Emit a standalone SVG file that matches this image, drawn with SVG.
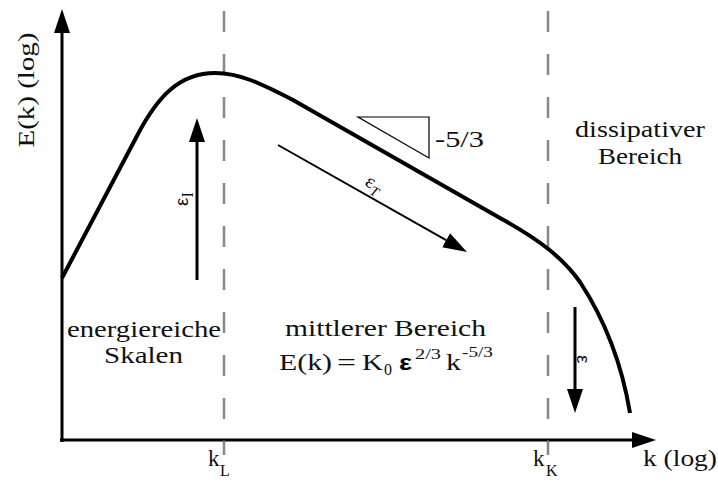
<svg xmlns="http://www.w3.org/2000/svg" width="718" height="482" viewBox="0 0 718 482">
<style>
.t{font-family:"Liberation Serif","Times New Roman",serif;font-size:23px;fill:#111}
.sub{font-family:"Liberation Serif","Times New Roman",serif;font-size:16px;fill:#111}
.sup{font-family:"Liberation Serif","Times New Roman",serif;font-size:15px;fill:#111}
.eps{font-family:"Liberation Sans","DejaVu Sans",sans-serif;font-size:19px;fill:#111}
.ax{stroke:#000;stroke-width:3;fill:none}
.dash{stroke:#888;stroke-width:2.5;stroke-dasharray:21 22;fill:none}
</style>
<defs>
<marker id="ah" markerUnits="userSpaceOnUse" markerWidth="26" markerHeight="18" viewBox="0 0 26 18" refX="0" refY="9" orient="auto">
<path d="M0,1 L24,9 L0,17 z" fill="#000"/>
</marker>
</defs>
<g id="connectors">
<line class="dash" x1="224" y1="11" x2="224" y2="455"/>
<line class="dash" x1="548" y1="11" x2="548" y2="455"/>
<line class="ax" x1="62" y1="442" x2="62" y2="33" marker-end="url(#ah)"/>
<line class="ax" x1="60" y1="440" x2="632" y2="440" marker-end="url(#ah)"/>
<line x1="224" y1="440" x2="224" y2="455" stroke="#888" stroke-width="1.2"/>
<line x1="548" y1="440" x2="548" y2="455" stroke="#888" stroke-width="1.2"/>
<path d="M62,278 L138,134 C158,96 180,73 215,73 C240,73 262,84 293,100 L500,218 C540,240 563,258 580,282 C605,320 622,365 630,413" fill="none" stroke="#000" stroke-width="4"/>
<line class="ax" x1="197" y1="280" x2="197" y2="142" marker-end="url(#ah)"/>
<line class="ax" x1="575" y1="307" x2="575" y2="389" marker-end="url(#ah)"/>
<line x1="278" y1="145" x2="446.1" y2="240.2" stroke="#000" stroke-width="2" marker-end="url(#ah)"/>
<polygon points="358,117 429,117 429,158" fill="none" stroke="#000" stroke-width="1.2"/>
</g>
<g id="axis-labels">
<text class="t" transform="translate(34,90) rotate(-90)" text-anchor="middle" textLength="115" lengthAdjust="spacingAndGlyphs">E(k) (log)</text>
<text class="t" x="643" y="466" textLength="74" lengthAdjust="spacingAndGlyphs">k (log)</text>
<text class="t" x="208" y="466">k</text><text class="sub" x="220" y="476">L</text>
<text class="t" x="533" y="466">k</text><text class="sub" x="546" y="476">K</text>
</g>
<g id="slope">
<text class="t" x="435" y="147" textLength="49" lengthAdjust="spacingAndGlyphs">-5/3</text>
</g>
<g id="eps-labels">
<text class="eps" transform="translate(188,206) rotate(-90)">ε<tspan class="sub" dy="5">I</tspan></text>
<text class="eps" transform="translate(577,355) rotate(90)">ε</text>
<text transform="translate(364,185) rotate(29.5)" style="font-family:'Liberation Serif',serif;font-size:20px">ε<tspan dy="5" style="font-size:14px;font-style:italic">T</tspan></text>
</g>
<g id="region-energy">
<text class="t" x="67" y="337" textLength="154" lengthAdjust="spacingAndGlyphs">energiereiche</text>
<text class="t" x="104" y="363" textLength="79" lengthAdjust="spacingAndGlyphs">Skalen</text>
</g>
<g id="region-middle">
<text class="t" x="285" y="336" textLength="201" lengthAdjust="spacingAndGlyphs">mittlerer Bereich</text>
<text class="t" x="279" y="370" textLength="53" lengthAdjust="spacingAndGlyphs">E(k)</text>
<text class="t" x="337" y="370" textLength="19" lengthAdjust="spacingAndGlyphs">=</text>
<text class="t" x="362" y="370" textLength="21" lengthAdjust="spacingAndGlyphs">K</text>
<text class="sub" x="384" y="375">0</text>
<text x="399" y="370" style="font-family:'Liberation Sans','DejaVu Sans',sans-serif;font-size:22px;font-weight:bold" textLength="13" lengthAdjust="spacingAndGlyphs">ε</text>
<text class="sup" x="415" y="359" textLength="26" lengthAdjust="spacingAndGlyphs">2/3</text>
<text class="t" x="446" y="370" textLength="15" lengthAdjust="spacingAndGlyphs">k</text>
<text class="sup" x="462" y="357" textLength="31" lengthAdjust="spacingAndGlyphs">-5/3</text>
</g>
<g id="region-dissipative">
<text class="t" x="575" y="137" textLength="130" lengthAdjust="spacingAndGlyphs">dissipativer</text>
<text class="t" x="598" y="164" textLength="84" lengthAdjust="spacingAndGlyphs">Bereich</text>
</g>
</svg>
